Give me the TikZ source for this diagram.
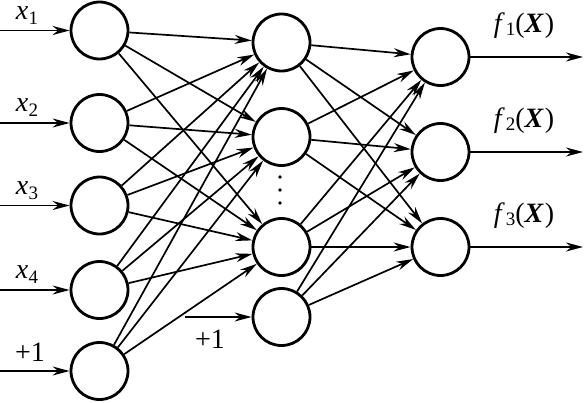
\documentclass[tikz,border=0pt]{standalone}
\usepackage{fontspec}
\setmainfont{Liberation Serif}
\usetikzlibrary{arrows.meta}
\newcommand{\mysub}[2][-5pt]{\raisebox{#1}{\fontsize{19}{19}\selectfont #2}}
\begin{document}
\begin{tikzpicture}[x=1pt,y=-1pt,
  neuron/.style={circle,draw,line width=2.8pt,minimum size=57pt,inner sep=0pt},
  conn/.style={line width=1.7pt,-{Stealth[length=17pt,width=9pt]}},
  lbl/.style={font=\fontsize{28}{28}\selectfont,anchor=base,inner sep=0pt}]
\useasboundingbox (0,0) rectangle (584,402);
% input layer
\node[neuron] (i1) at (99.5,30.5) {};
\node[neuron] (i2) at (99.5,123) {};
\node[neuron] (i3) at (99.5,205.5) {};
\node[neuron] (i4) at (99.5,290) {};
\node[neuron] (i5) at (99.5,371) {};
% hidden layer
\node[neuron] (h1) at (281.5,42.5) {};
\node[neuron] (h2) at (281.5,137) {};
\node[neuron] (h3) at (281.5,247) {};
\node[neuron] (h4) at (281.5,317) {};
% output layer
\node[neuron] (o1) at (440.5,57) {};
\node[neuron] (o2) at (440.5,152) {};
\node[neuron] (o3) at (440.5,247) {};
% dots
\fill (280,177) circle (1.9);
\fill (280,190) circle (1.9);
\fill (280,203) circle (1.9);
% input arrows
\coordinate (s1) at (0,30.5);
\coordinate (s2) at (0,123);
\coordinate (s3) at (0,205.5);
\coordinate (s4) at (0,290);
\coordinate (s5) at (0,371);
\foreach \k in {1,...,5}{\draw[conn] (s\k) -- (i\k);}
\node[lbl] (lx1) at (27,19) {\textit{x}\kern0.5pt\mysub{1}};
\node[lbl] (lx2) at (27,111.5) {\textit{x}\kern0.5pt\mysub{2}};
\node[lbl] (lx3) at (27,194) {\textit{x}\kern0.5pt\mysub{3}};
\node[lbl] (lx4) at (27,278.5) {\textit{x}\kern0.5pt\mysub{4}};
\node[lbl] (lb1) at (30,361) {+1};
% bias to hidden
\coordinate (sb) at (185,317);
\draw[conn] (sb) -- (h4);
\node[lbl] (lb2) at (210,348) {+1};
% input -> hidden
\foreach \a in {1,...,5}{\foreach \b in {1,2,3}{\draw[conn] (i\a) -- (h\b);}}
% hidden -> output
\foreach \a in {1,...,4}{\foreach \b in {1,2,3}{\draw[conn] (h\a) -- (o\b);}}
% output arrows
\coordinate (e1) at (583,57);
\coordinate (e2) at (583,152);
\coordinate (e3) at (583,247);
\foreach \k in {1,2,3}{\draw[conn] (o\k) -- (e\k);}
\node[lbl] (lf1) at (524,32) {\textit{f}\kern1pt\mysub[-3pt]{1}(\textbf{\textit{X}}\kern1pt)};
\node[lbl] (lf2) at (524,127) {\textit{f}\kern1pt\mysub[-3pt]{2}(\textbf{\textit{X}}\kern1pt)};
\node[lbl] (lf3) at (524,222) {\textit{f}\kern1pt\mysub[-3pt]{3}(\textbf{\textit{X}}\kern1pt)};
\end{tikzpicture}
\end{document}
